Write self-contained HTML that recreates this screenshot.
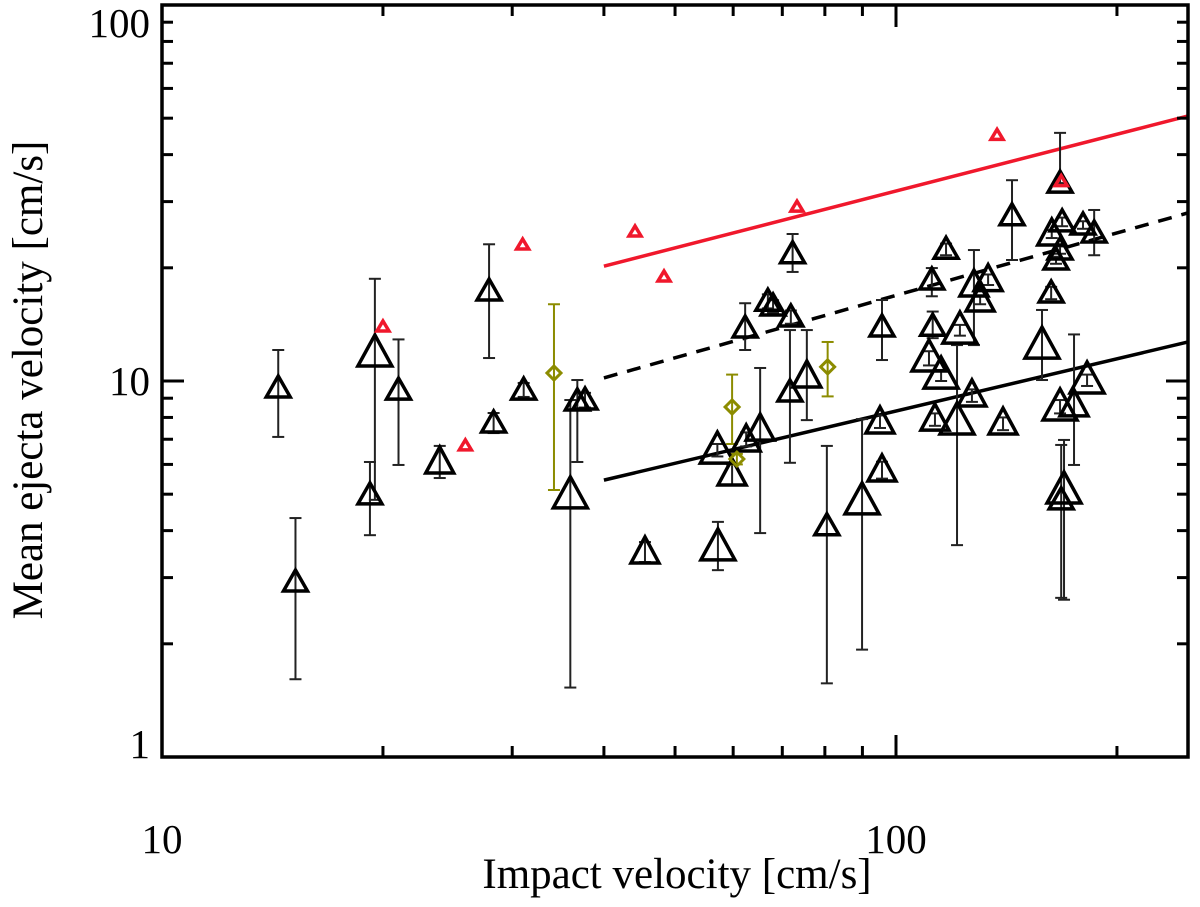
<!DOCTYPE html>
<html><head><meta charset="utf-8"><style>
html,body{margin:0;padding:0;background:#fff;}
svg text{font-family:"Liberation Serif",serif;}
</style></head><body>
<svg id="chart" width="1200" height="902" viewBox="0 0 1200 902" xmlns="http://www.w3.org/2000/svg">
<g id="grid"></g>
<g id="marks"></g>
<g id="axes"></g>
</svg>
<script>
// black triangles: x, y, error lo, error hi, size class
const blkX=[14.4,15.2,19.2,19.5,21.0,23.9,27.9,28.3,31.1,36.0,36.8,37.7,45.5,57.2,57.1,59.8,62.5,62.3,65.3,66.9,68.0,71.9,72.3,71.7,75.6,80.5,89.9,95.1,95.7,95.7,110.9,111.9,112.2,113.0,115.2,117.0,121.1,122.2,126.9,127.7,130.2,133.5,139.9,143.9,158.1,162.7,163.0,165.2,167.3,167.3,168.4,167.3,169.4,167.9,174.8,179.8,182.1,186.2];
const blkY=[9.58,2.92,4.98,11.87,9.46,6.09,17.35,7.73,9.46,4.98,8.85,8.90,3.51,3.62,6.55,5.66,6.97,13.83,7.45,16.3,15.83,14.8,21.8,9.35,10.31,4.12,4.80,7.78,13.92,5.80,11.51,18.56,13.98,7.92,10.37,22.4,7.83,13.66,9.18,18.0,16.42,18.6,7.73,27.5,12.46,17.14,24.6,20.98,8.53,33.6,26.5,22.3,5.13,4.83,8.64,26.0,10.06,24.75];
const blkLo=[7.10,1.61,3.89,4.83,5.98,5.52,11.51,7.27,9.07,1.53,6.09,8.5,3.30,3.14,6.3,5.3,6.7,12.09,3.94,15.6,15.2,14.2,19.5,6.06,7.87,1.57,1.93,7.5,11.37,5.5,11.0,16.8,13.0,7.6,10.0,21.6,3.66,13.2,8.8,12.46,16.0,18.0,7.4,20.98,10.06,16.5,24.0,20.5,8.2,33.6,25.8,21.8,2.62,2.65,5.98,25.4,9.7,21.6];
const blkHi=[12.09,4.32,6.09,18.7,12.9,6.72,23.1,8.22,9.88,8.90,10.06,9.3,3.73,4.22,6.8,6.0,7.3,16.1,10.83,17.0,16.4,15.4,24.6,13.66,13.66,6.72,7.92,8.1,16.42,6.1,12.0,19.97,15.3,8.2,10.7,23.2,12.46,14.1,9.5,22.3,16.8,19.2,8.0,34.2,15.45,17.8,25.2,21.4,8.9,45.7,27.2,22.8,6.97,6.76,13.3,26.6,10.4,28.5];
const blkSize=[1,1,1,3,1,2,1,1,1,3,1,1,2,3,3,2,2,1,2,1,1,1,1,1,2,1,3,2,1,2,3,1,1,2,3,1,3,3,2,2,2,2,2,1,3,1,2,1,3,1,1,1,3,1,2,1,3,1];
// red triangles
const redX=[20.0,25.9,31.0,44.1,48.3,73.3,137.3,167.9];
const redY=[13.92,6.72,23.0,24.9,18.9,29.0,45.0,33.9];
// olive diamonds
const olvX=[34.2,59.8,60.7,80.7];
const olvY=[10.5,8.53,6.2,10.9];
const olvLo=[5.13,6.8,6.0,9.1];
const olvHi=[16.0,10.4,6.4,12.7];
// fit lines
const lineX=[40,250];
const redLineY=[20.2,50.7];
const dashLineY=[10.19,28.0];
const solidLineY=[5.45,12.7];
const xTickVals=[10,100];
const xTickLabels=["10","100"];
const yTickVals=[1,10,100];
const yTickLabels=["1","10","100"];

const L=162,R=1188,T=5,B=757;
const xmin=10,xmax=250,ymin=1,ymax=100;
function sx(v){return L+(Math.log10(v)-Math.log10(xmin))*734;}
function sy(v){return B-(Math.log10(v)-Math.log10(ymin))*376;}
const NS="http://www.w3.org/2000/svg";
function mk(tag,attrs,parent){const e=document.createElementNS(NS,tag);for(const k in attrs)e.setAttribute(k,attrs[k]);parent.appendChild(e);return e;}
const marks=document.getElementById('marks');
const axes=document.getElementById('axes');

function errbar(x,lo,hi,color,w){
  const g=mk('g',{stroke:color,'stroke-width':w,fill:'none'},marks);
  
  
  const px=sx(x);
  mk('line',{x1:px,x2:px,y1:sy(lo),y2:sy(hi)},g);
  mk('line',{x1:px-6,x2:px+6,y1:sy(lo),y2:sy(lo)},g);
  mk('line',{x1:px-6,x2:px+6,y1:sy(hi),y2:sy(hi)},g);
}
function tri(x,y,hw,up,down,color,sw,name){
  const px=sx(x),py=sy(y);
  const p=mk('polygon',{points:`${px},${py-up} ${px+hw},${py+down} ${px-hw},${py+down}`,fill:'none',stroke:color,'stroke-width':sw,'stroke-linejoin':'miter'},marks);
  
  
}
function fitLine(ys,color,dash,name){
  const l=mk('line',{x1:sx(lineX[0]),y1:sy(ys[0]),x2:sx(lineX[1]),y2:sy(ys[1]),stroke:color,'stroke-width':3.5},marks);
  if(dash)l.setAttribute('stroke-dasharray',dash);
  
  
}
fitLine(redLineY,'#f0182c',null,'red-fit-line');
fitLine(dashLineY,'#000','14,10','dashed-fit-line');
fitLine(solidLineY,'#000',null,'solid-fit-line');

for(let i=0;i<blkX.length;i++)errbar(blkX[i],blkLo[i],blkHi[i],'#222',2);
for(let i=0;i<olvX.length;i++)errbar(olvX[i],olvLo[i],olvHi[i],'#8c8c00',2);
const sz={1:[12,12,9],2:[14,15,11],3:[17,18,13]};
for(let i=0;i<blkX.length;i++){const s=sz[blkSize[i]];tri(blkX[i],blkY[i],s[0],s[1],s[2],'#000',3.5,'black-triangle');}
for(let i=0;i<redX.length;i++)tri(redX[i],redY[i],6,6,4,'#f0182c',3.5,'red-triangle');
for(let i=0;i<olvX.length;i++){
  const px=sx(olvX[i]),py=sy(olvY[i]);
  const d=mk('polygon',{points:`${px},${py-7} ${px+7},${py} ${px},${py+7} ${px-7},${py}`,fill:'none',stroke:'#8c8c00','stroke-width':3},marks);
  
  
}

const fr=mk('rect',{x:L,y:T,width:R-L,height:B-T,fill:'none',stroke:'#000','stroke-width':3.5},axes);


const tg=mk('g',{stroke:'#000','stroke-width':3},axes);


for(let d=10;d<=100;d*=10){for(let m=1;m<=9;m++){const v=d*m;if(v<xmin||v>xmax)continue;const len=m===1?22:11;const px=sx(v);
  mk('line',{x1:px,x2:px,y1:B,y2:B-len},tg);mk('line',{x1:px,x2:px,y1:T,y2:T+len},tg);}}
for(let d=1;d<=100;d*=10){for(let m=1;m<=9;m++){const v=d*m;if(v<ymin||v>ymax)continue;const len=m===1?22:11;const py=sy(v);
  mk('line',{x1:L,x2:L+len,y1:py,y2:py},tg);mk('line',{x1:R,x2:R-len,y1:py,y2:py},tg);}}
for(let i=0;i<xTickVals.length;i++){
  const t=mk('text',{x:sx(xTickVals[i]),y:853,'font-size':41,'text-anchor':'middle',fill:'#000'},axes);
  t.textContent=xTickLabels[i];
  
  
}
for(let i=0;i<yTickVals.length;i++){
  const t=mk('text',{x:150,y:sy(yTickVals[i])+(i===2?32:(i===1?14:1)),'font-size':41,'text-anchor':'end',fill:'#000'},axes);
  t.textContent=yTickLabels[i];
  
  
}
const xt=mk('text',{x:677,y:888,'font-size':43,'text-anchor':'middle',fill:'#000'},axes);
xt.textContent='Impact velocity [cm/s]';


const yt=mk('text',{x:0,y:0,'font-size':43,'text-anchor':'middle',fill:'#000',transform:'translate(42,380) rotate(-90)'},axes);
yt.textContent='Mean ejecta velocity [cm/s]';


</script>
</body></html>
